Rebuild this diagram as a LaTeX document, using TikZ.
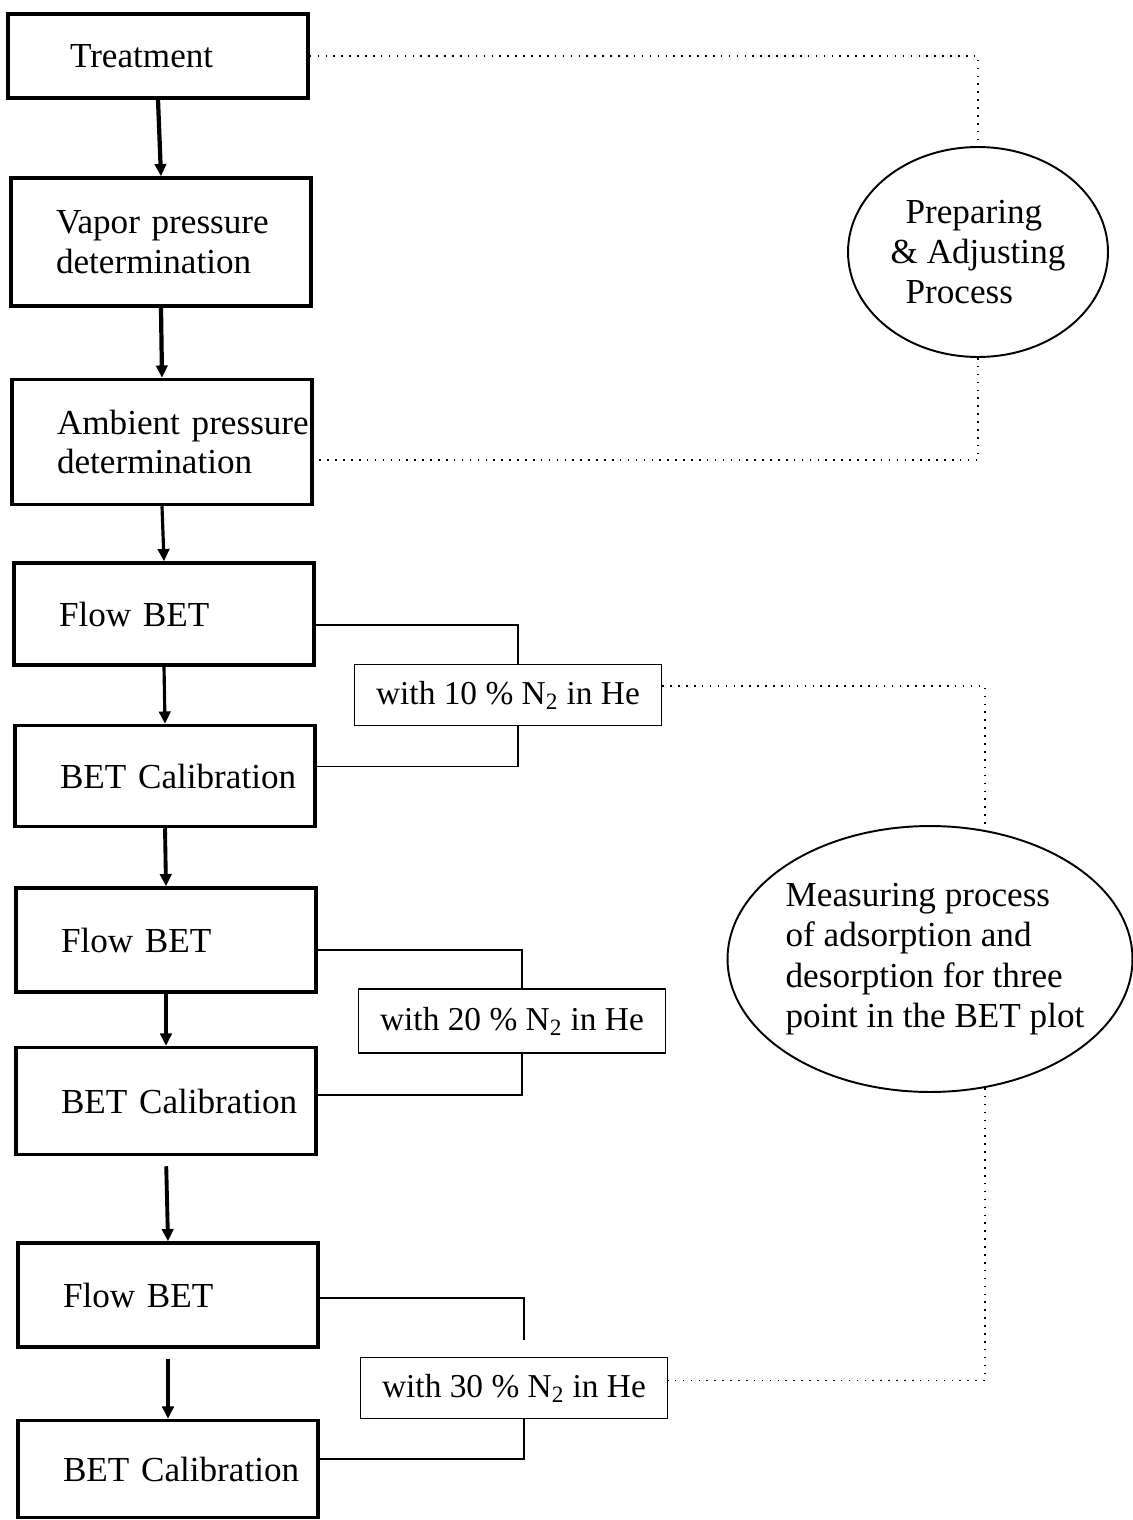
\documentclass[tikz,border=0pt]{standalone}
\usepackage{fontspec}
\setmainfont{Liberation Serif}
\usetikzlibrary{arrows.meta,shapes.geometric}

\tikzset{
	stage/.style={draw, line width=2pt, minimum width=6cm, text width=5.5cm, inner xsep=0.25cm, inner ysep=0pt, align=left, font=\fontsize{20}{22.5}\selectfont, execute at begin node={\leftskip=0.65cm\rightskip=0pt plus 1fil\relax}},
	gas/.style={draw, line width=1pt, minimum width=6.14cm, minimum height=1.22cm, inner sep=0pt, font=\fontsize{19}{22}\selectfont},
	note/.style={draw, ellipse, line width=1.1pt, inner sep=0pt, align=left, font=\fontsize{20}{23}\selectfont},
	arr/.style={line width=1.8pt, -{Triangle[length=7pt,width=6.5pt]}},
	feed/.style={line width=1pt},
	linkdot/.style={line width=0.9pt, dash pattern=on 0.9pt off 3.6pt}
}

\begin{document}
\begin{tikzpicture}[x=0.02cm, y=-0.02cm]
		%%%%% START %%%%%
		\useasboundingbox (0,0) rectangle (1132,1520);
		
		\node[stage, minimum height=1.68cm] (treat) at (158,56) {\hspace*{0.34cm}Treatment};
		\node[stage, minimum height=2.56cm] (vap) at (161,242) {Vapor pressure\\determination};
		\node[stage, minimum height=2.5cm] (amb) at (162,442) {\mbox{Ambient pressure}\\determination};
		
		\node[stage, minimum height=2.04cm] (flowA) at (164,614) {Flow BET};
		\node[stage, minimum height=2.02cm] (calA) at (165,776) {BET Calibration};
		\node[stage, minimum height=2.08cm] (flowB) at (166,940) {Flow BET};
		\node[stage, minimum height=2.14cm] (calB) at (166,1101) {BET Calibration};
		\node[stage, minimum height=2.08cm] (flowC) at (168,1295) {Flow BET};
		\node[stage, minimum height=1.94cm] (calC) at (168,1469) {BET Calibration};
		
		\node[gas] (withA) at (508,695) {with 10 \% N\textsubscript{2} in He};
		\node[gas, minimum height=1.28cm] (withB) at (512,1021) {with 20 \% N\textsubscript{2} in He};
		\node[gas] (withC) at (514,1388) {with 30 \% N\textsubscript{2} in He};
		
		\node[note, minimum width=5.2cm, minimum height=4.2cm] (prep) at (978,252) {\hspace*{0.3cm}Preparing\\\& Adjusting\\\hspace*{0.3cm}Process};
		\node[note, minimum width=8.1cm, minimum height=5.32cm, inner xsep=-12pt] (meas) at (930,959) {\hspace*{0.2cm}Measuring process\\\hspace*{0.2cm}of adsorption and\\\hspace*{0.2cm}desorption for three\\\hspace*{0.2cm}point in the BET plot};
		
		\draw[arr, line width=2.4pt] (treat.south) -- (vap.north);
		\draw[arr, line width=2.4pt] (vap.south) -- (amb.north);
		\draw[arr] (amb.south) -- (flowA.north);
		\draw[arr] (flowA.south) -- (calA.north);
		\draw[arr, line width=2.2pt] (calA.south) -- (flowB.north);
		\draw[arr, line width=2.2pt] (flowB.south) -- (calB.north);
		\draw[arr, line width=2.2pt, shorten <=0.2cm] (calB.south) -- (flowC.north);
		\draw[arr, line width=2.2pt, shorten <=0.2cm] (flowC.south) -- (calC.north);
		
		\draw[feed] ([yshift=-0.22cm]flowA.east) -| ([xshift=0.2cm]withA.north);
		\draw[feed] ([xshift=0.2cm]withA.south) |- ([yshift=0.19cm]calA.east);
		\draw[feed] ([yshift=-0.2cm]flowB.east) -| ([xshift=0.2cm]withB.north);
		\draw[feed] ([xshift=0.2cm]withB.south) |- ([yshift=0.12cm]calB.east);
		\draw[feed] ([yshift=-0.06cm]flowC.east) -| ([xshift=0.2cm,yshift=0.34cm]withC.north);
		\draw[feed] ([xshift=0.2cm]withC.south) |- ([yshift=0.2cm]calC.east);
		
		\draw[linkdot] (treat.east) -| (prep.north);
		\draw[linkdot] (prep.south) |- ([yshift=-0.36cm]amb.east);
		\draw[linkdot] ([yshift=0.18cm]withA.east) -| (meas.67);
		\draw[linkdot] (meas.-67) |- ([yshift=0.15cm]withC.east);
		
		%%%%% END %%%%%
	\end{tikzpicture}
\end{document}
